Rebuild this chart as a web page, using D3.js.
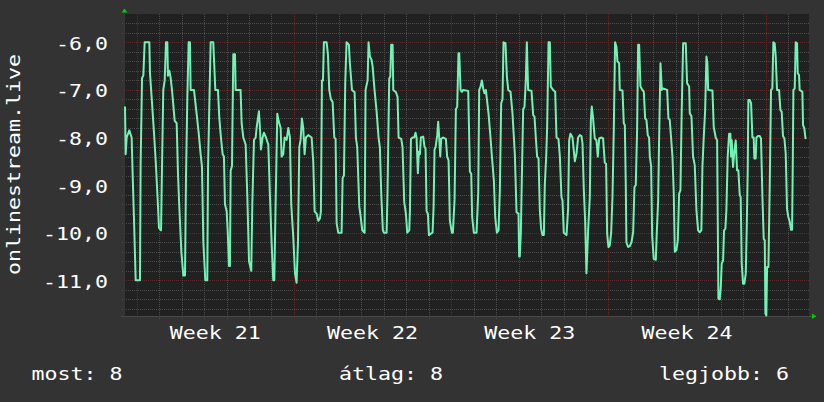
<!DOCTYPE html>
<html>
<head>
<meta charset="utf-8">
<script src="https://cdn.jsdelivr.net/npm/d3@7"></script>
<style>
body { margin: 0; background: #333333; }
text { font-family: "DejaVu Sans Mono", monospace; font-size: 18px; fill: #ffffff; }
</style>
</head>
<body>
<svg width="824" height="402"></svg>
<script>
// [hours since Mon 2019-05-20 00:00 UTC, rank (negated)]
const rankPoints = [
[-12.5,-7.35],[-11.8,-8.35],[-10.7,-8.0],[-7.9,-7.85],[-5.4,-8.0],[-4.3,-8.8],[-2.9,-9.7],[-1.1,-11.0],[3.5,-11.0],[4.2,-8.55],
[5.7,-6.75],[7.1,-6.7],[8.5,-6.0],[13.5,-6.0],[14.2,-6.65],[16.3,-7.25],[18.8,-8.0],[20.6,-8.6],[22.4,-9.3],[23.8,-9.9],
[26.0,-9.95],[27.0,-8.65],[28.4,-7.0],[29.9,-6.8],[31.3,-6.0],[32.7,-6.0],[33.4,-6.7],[34.9,-6.6],[36.3,-6.75],[37.7,-7.0],
[40.6,-7.65],[42.7,-7.7],[44.1,-8.75],[45.5,-9.45],[47.7,-10.4],[49.8,-10.9],[51.6,-10.9],[52.7,-8.8],[54.1,-7.15],[55.5,-6.0],
[56.9,-6.0],[57.6,-7.0],[61.2,-7.0],[64.0,-7.5],[66.2,-7.9],[68.3,-8.35],[69.7,-8.6],[71.2,-10.2],[73.3,-11.0],[75.4,-11.0],
[76.2,-8.65],[77.6,-7.3],[79.0,-6.0],[81.8,-6.0],[84.0,-7.0],[86.8,-7.0],[88.3,-7.6],
[90.0,-8.0],[91.8,-8.35],[93.2,-8.4],[94.3,-9.4],[96.1,-9.55],[97.2,-9.95],[98.6,-10.7],[99.6,-10.7],[100.4,-8.7],[101.8,-8.6],
[103.2,-6.25],[105.0,-6.25],[105.7,-7.0],[111.0,-7.0],[112.1,-7.7],[113.9,-8.0],[116.4,-8.15],[118.2,-9.25],[120.0,-10.6],[122.4,-10.8],
[123.5,-9.4],[125.3,-8.05],[127.1,-8.0],[128.1,-7.8],[129.5,-7.6],[130.6,-7.45],[131.7,-7.8],[132.7,-8.25],[134.5,-8.0],[135.9,-7.9],
[138.1,-8.0],[140.6,-8.15],[142.4,-9.25],[144.1,-10.2],[145.9,-11.0],[147.0,-11.0],[148.4,-9.4],[150.2,-7.5],[151.6,-7.65],[153.8,-7.8],
[154.8,-8.4],[156.6,-8.35],[158.0,-8.0],[160.2,-8.05],[162.0,-7.8],[163.7,-8.0],[165.1,-9.4],[167.3,-10.1],[169.1,-10.85],[170.8,-11.05],
[172.3,-10.2],[173.7,-8.2],[175.1,-8.05],[176.5,-7.6],[177.9,-7.8],[179.4,-8.35],[180.8,-8.0],[183.3,-7.95],[186.9,-8.0],[188.6,-8.5],
[190.1,-9.55],[192.2,-9.6],[194.0,-9.75],[195.8,-9.7],
[196.8,-9.55],[197.9,-6.8],[199.0,-6.8],[200.0,-6.0],[202.9,-6.0],[204.3,-6.25],[205.7,-7.0],[207.5,-7.2],[209.3,-7.25],[211.1,-8.0],
[212.5,-8.03],[213.6,-9.8],[215.3,-10.0],[218.9,-10.0],[220.0,-8.85],[221.4,-8.8],[222.8,-6.85],[224.2,-6.0],[226.7,-6.05],[227.8,-6.45],
[230.0,-7.0],[232.8,-7.05],[234.2,-8.0],[235.6,-8.2],[237.8,-9.45],[239.2,-9.65],[241.0,-9.95],[243.5,-10.0],[244.5,-7.0],[246.7,-6.8],
[247.7,-6.0],[249.2,-6.3],[250.9,-6.37],[252.0,-6.5],[254.1,-7.0],[256.3,-7.45],[258.4,-8.0],[259.8,-8.2],[261.3,-9.2],[263.0,-9.95],
[264.1,-10.0],[267.0,-10.0],[268.0,-9.1],[269.8,-6.76],[270.9,-6.72],[271.9,-6.05],[273.4,-6.05],[274.1,-7.0],[277.0,-7.05],[278.7,-7.15],
[279.8,-8.0],[282.6,-8.03],[284.0,-8.2],[285.8,-9.35],[287.6,-9.6],[289.0,-10.0],[291.2,-9.95],[291.9,-9.55],[293.0,-8.03],[294.7,-8.0],
[296.5,-8.0],[297.9,-7.9],[299.0,-8.0],[300.4,-8.75],[301.5,-8.3],[302.6,-8.35],
[303.6,-8.0],[306.1,-7.98],[307.5,-8.2],[308.6,-8.23],[309.7,-9.55],[311.1,-9.6],[312.2,-10.05],[314.3,-10.02],[316.1,-10.0],[317.2,-9.45],
[318.2,-8.25],[319.3,-8.2],[321.1,-7.95],[322.1,-7.67],[323.2,-8.0],[324.3,-8.4],[325.3,-8.03],[327.5,-8.0],[330.3,-8.03],[331.7,-8.4],
[333.2,-8.48],[334.6,-9.75],[336.7,-10.0],[337.8,-10.0],[339.6,-9.3],[341.0,-7.4],[342.4,-7.36],[343.8,-6.23],[344.6,-6.23],[346.0,-7.0],
[347.4,-7.04],[348.8,-7.0],[354.2,-7.02],[356.0,-8.72],[357.4,-8.76],[358.4,-9.67],[360.2,-10.0],[363.1,-10.0],[364.9,-9.15],[365.9,-7.0],
[367.3,-6.93],[368.8,-6.8],[370.2,-6.97],[371.6,-7.07],[373.0,-7.0],[375.9,-7.5],[378.0,-8.0],[379.5,-8.4],[381.6,-8.9],[383.0,-9.67],
[384.8,-10.0],[386.6,-9.95],[388.0,-9.1],[389.4,-7.28],[390.8,-7.2],[391.9,-6.0],[394.0,-6.02],[395.5,-6.72],[396.9,-7.0],[399.4,-7.04],
[401.5,-7.5],[404.0,-8.35],[405.8,-9.57],[407.9,-9.6],[408.6,-10.5],[409.3,-10.5],
[410.4,-10.0],[411.5,-8.83],[412.9,-7.4],[414.3,-7.36],[415.7,-6.8],[416.8,-6.0],[418.2,-7.0],[421.8,-7.02],[423.6,-7.53],[425.0,-7.56],
[426.4,-8.0],[427.8,-8.4],[429.3,-8.44],[430.7,-9.53],[432.1,-9.92],[433.5,-10.05],[435.0,-10.05],[436.0,-9.0],[437.5,-8.4],[438.5,-7.78],
[440.0,-6.0],[441.4,-6.0],[442.4,-6.93],[444.9,-7.0],[447.1,-7.04],[448.5,-8.0],[450.6,-8.03],[452.1,-8.4],[453.8,-9.25],[454.9,-9.32],
[456.3,-10.0],[459.2,-10.05],[460.9,-9.5],[462.0,-8.06],[463.4,-7.92],[465.6,-8.0],[468.1,-8.5],[469.9,-8.33],[471.6,-8.0],[473.4,-7.95],
[475.2,-7.97],[476.3,-8.13],[477.7,-9.1],[479.1,-9.75],[480.5,-10.85],[482.3,-9.95],[484.1,-9.25],[485.2,-7.64],[486.2,-7.35],[487.6,-7.6],
[489.4,-8.02],[491.2,-8.06],[492.6,-8.4],[494.1,-8.02],[496.6,-8.0],[498.3,-8.02],[500.1,-8.53],[501.5,-8.55],[502.6,-10.02],[504.0,-10.3],
[505.4,-10.27],[506.9,-10.0],[508.3,-9.25],[509.7,-7.85],[511.1,-6.0],[512.6,-6.1],[513.6,-6.4],[515.4,-6.44],[516.1,-7.0],
[519.0,-7.01],[520.4,-7.7],[521.5,-7.74],[522.5,-8.97],[523.2,-10.2],[525.0,-10.3],[526.8,-10.28],[528.6,-10.2],[530.4,-9.99],[531.8,-9.04],
[533.2,-9.0],[534.6,-7.85],[535.7,-6.05],[536.8,-6.05],[538.2,-6.93],[540.3,-7.0],[541.8,-7.04],[543.2,-7.6],[544.6,-7.63],[546.0,-7.95],
[547.4,-8.0],[548.2,-8.4],[549.6,-8.6],[550.7,-10.06],[552.4,-10.55],[554.6,-10.57],[555.6,-10.02],[557.1,-9.32],[558.1,-8.06],[559.6,-6.44],
[561.0,-7.0],[562.4,-6.97],[566.7,-7.0],[568.1,-7.6],[569.5,-7.63],[570.9,-8.0],[572.4,-8.4],[573.8,-9.18],[574.9,-10.4],[576.6,-10.37],
[578.1,-10.16],[579.5,-9.18],[580.9,-9.11],[582.3,-7.42],[583.8,-6.02],[586.6,-6.02],[588.0,-6.86],[590.2,-6.93],[590.9,-7.49],[592.7,-7.56],
[594.4,-8.4],[596.2,-8.58],[598.0,-9.53],[599.8,-9.95],[601.6,-9.99],[603.3,-9.95],[604.4,-8.62],[605.8,-8.0],[607.3,-7.44],[608.7,-6.3],
[609.7,-6.44],[610.5,-7.0],[615.1,-7.01],[616.5,-7.78],[618.6,-8.0],[620.1,-8.06],[621.5,-11.39],[622.9,-11.4],
[624.0,-11.15],[625.0,-10.65],[626.5,-10.58],[627.5,-9.95],[628.9,-9.92],[630.0,-9.53],[631.4,-8.4],[632.9,-7.92],[634.3,-7.92],[635.0,-8.4],
[635.7,-8.06],[637.1,-8.62],[638.6,-8.27],[640.0,-8.06],[641.4,-8.69],[642.8,-8.69],[644.3,-9.21],[645.3,-9.25],[646.4,-10.65],[647.8,-11.07],
[649.2,-11.07],[650.7,-10.86],[651.7,-9.95],[652.8,-8.69],[653.5,-7.21],[654.9,-7.21],[656.4,-7.28],[657.8,-8.0],[659.2,-8.0],[659.9,-8.44],
[661.3,-8.44],[662.1,-8.0],[663.8,-7.97],[665.6,-7.97],[667.0,-8.02],[668.5,-9.25],[669.9,-10.13],[671.0,-10.16],[671.7,-11.7],[672.7,-11.74],
[673.5,-10.72],[674.9,-10.72],[676.3,-9.04],[677.7,-7.0],[679.1,-6.97],[680.2,-6.0],[681.6,-6.02],[682.7,-6.3],[684.1,-7.0],[686.3,-7.0],
[687.7,-7.42],[689.1,-7.46],[690.5,-7.97],[692.0,-8.02],[693.4,-8.34],[694.8,-9.5],[696.2,-9.67],[697.7,-9.77],[699.1,-9.94],[700.2,-9.94],
[700.9,-8.62],[701.6,-7.0],[703.0,-6.97],[704.1,-6.0],[705.5,-6.02],[706.2,-6.65],[707.6,-6.69],[708.3,-7.0],[711.2,-7.04],[711.9,-7.74],
[713.3,-7.81],[714.4,-8.0],[714.8,-8.03]
];

const yTicks = [-11, -10, -9, -8, -7, -6];
const weekLabels = ["Week 21", "Week 22", "Week 23", "Week 24"];
const legendNames = ["most", "átlag", "legjobb"];
const legendValues = [8, 8, 6];
const yTitle = "onlinestream.live";

const HOUR = 3600e3;
const t0 = Date.UTC(2019, 4, 20);
const toDate = h => new Date(t0 + h * HOUR);

const L = 124, R = 809, T = 14, B = 316;
const sx = 1.2; // glyphs in the original are wider than DejaVu Sans Mono

const x = d3.scaleUtc().domain([toDate(-13.57), toDate(718.27)]).range([L, R]);
const y = d3.scaleLinear().domain([-11.75, -5.405]).range([B, T]);

const fmt = d3.formatLocale({decimal: ",", thousands: ".", grouping: [3], currency: ["", ""], minus: "-"}).format(".1f");

const svg = d3.select("svg");
svg.append("rect").attr("width", 824).attr("height", 402).attr("fill", "#333333");
svg.append("rect").attr("x", L).attr("y", T).attr("width", R - L).attr("height", B - T).attr("fill", "#212121");

const minorCol = "#4c4c4c", majorCol = "#5e2b2b";
const grid = svg.append("g").attr("shape-rendering", "crispEdges").attr("stroke-width", 1).attr("stroke-dasharray", "1,1");

// horizontal grid, every 0.2
const yMinor = d3.range(-58, -27).map(i => i / 5);
grid.selectAll("line.h").data(yMinor).join("line")
  .attr("x1", L - 2).attr("x2", R)
  .attr("y1", d => Math.round(y(d)) + 0.5).attr("y2", d => Math.round(y(d)) + 0.5)
  .attr("stroke", d => Number.isInteger(d) ? majorCol : minorCol);

// vertical grid: days, weeks in red
const days = d3.utcDay.range(x.domain()[0], x.domain()[1]);
const mondays = d3.utcMonday.range(x.domain()[0], x.domain()[1]);
const isMonday = d => d.getUTCDay() === 1;
grid.selectAll("line.v").data(days).join("line")
  .attr("x1", d => Math.round(x(d)) + 0.5).attr("x2", d => Math.round(x(d)) + 0.5)
  .attr("y1", T).attr("y2", B + 3)
  .attr("stroke", d => isMonday(d) ? majorCol : minorCol);

// axes
svg.append("line").attr("x1", L - 3).attr("x2", R + 3).attr("y1", B + 0.5).attr("y2", B + 0.5)
  .attr("stroke", "#4a4a4a").attr("shape-rendering", "crispEdges");
svg.append("line").attr("x1", L + 0.5).attr("x2", L + 0.5).attr("y1", T - 2).attr("y2", B + 4)
  .attr("stroke", "#363636").attr("shape-rendering", "crispEdges");
svg.append("path").attr("d", `M${L - 2.5},${T - 1.5}L${L + 3.5},${T - 1.5}L${L + 0.5},${T - 5.5}Z`).attr("fill", "#00cc00");
svg.append("path").attr("d", `M${R + 3},${B - 2.5}L${R + 3},${B + 3}L${R + 7.5},${B + 0.3}Z`).attr("fill", "#00cc00");

// the series
const line = d3.line().x(d => x(toDate(d[0]))).y(d => y(d[1]));
svg.append("path").datum(rankPoints)
  .attr("d", line)
  .attr("fill", "none")
  .attr("stroke", "#72f2b4")
  .attr("stroke-width", 2)
  .attr("stroke-linejoin", "round");

// labels
function label(str, tx, ty, anchor, rot) {
  svg.append("text")
    .attr("transform", `translate(${tx},${ty})${rot ? " rotate(-90)" : ""} scale(${sx},1)`)
    .attr("text-anchor", anchor)
    .text(str);
}

yTicks.forEach(v => label(fmt(v), 108, y(v) + 7.5, "end"));
mondays.slice(0, weekLabels.length).forEach((m, i) =>
  label(weekLabels[i], x(d3.utcHour.offset(m, 84)), 339, "middle"));
label(yTitle, 19.5, 164.5, "middle", true);

const legendX = [31.5, 339, 659];
legendNames.forEach((n, i) => label(n + ": " + legendValues[i], legendX[i], 380, "start"));
</script>
</body>
</html>
